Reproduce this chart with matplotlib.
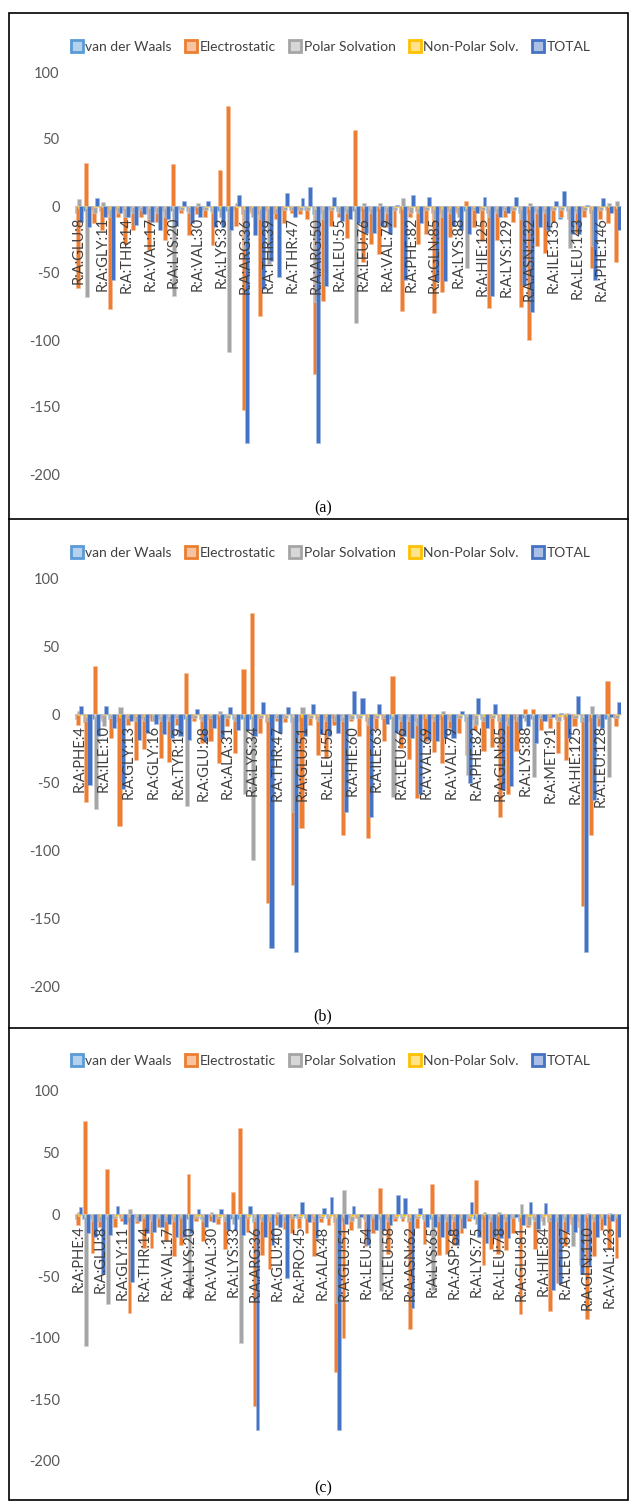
import matplotlib
matplotlib.use('Agg')
import matplotlib.pyplot as plt
from matplotlib.patches import Rectangle
from matplotlib.lines import Line2D
from matplotlib.colors import to_rgb
import numpy as np

series_names = ['van der Waals', 'Electrostatic', 'Polar Solvation', 'Non-Polar Solv.', 'TOTAL']
colors = ['#5B9BD5', '#ED7D31', '#A5A5A5', '#FFC000', '#4472C4']
y_ticks = [100, 50, 0, -50, -100, -150, -200]

# ---------------- panel (a) ----------------
a_labels = ['R:A:GLU:8', 'R:A:GLY:11', 'R:A:THR:14', 'R:A:VAL:17', 'R:A:LYS:20', 'R:A:VAL:30',
            'R:A:LYS:33', 'R:A:ARG:36', 'R:A:THR:39', 'R:A:THR:47', 'R:A:ARG:50', 'R:A:LEU:55',
            'R:A:LEU:76', 'R:A:VAL:79', 'R:A:PHE:82', 'R:A:GLN:85', 'R:A:LYS:88', 'R:A:HIE:125',
            'R:A:LYS:129', 'R:A:ASN:132', 'R:A:ILE:135', 'R:A:LEU:143', 'R:A:PHE:146']
a_vdw = [-5, -4, -3, -4, -6, -3, -4, -4, -3, -5, -4, -4, -4, -3, -4, -3, -3, -4, -4, -4,
         -3, -6, -4, -6, -4, -5, -3, -3, -3, -3, -6, -5, -3, -4, -4, -4, -4, -4, -4, -4,
         -3, -5, -3, -4, -3, -5, -5, -4, -4, -4, -3, -3, -5, -4, -3, -3, -5, -6, -4, -4,
         -3, -10, -4, -4, -3, -5, -3, -3, -4]
a_elec = [-61, 32, -13, -18, -77, -8, -28, -18, -8, -33, -12, -25, 31, -5, -22, -6, -8, -29, 27, 75,
          -15, -152, -5, -82, -12, -10, -13, -5, -6, -10, -125, -71, -15, -8, -24, 57, -42, -28, -36, -16,
          -16, -78, -8, -28, -21, -80, -64, -23, -5, 4, -16, -26, -76, -25, -8, -12, -75, -100, -30, -35,
          -12, -8, -10, -20, -8, -46, -10, -13, -42]
a_polar = [5, -68, -5, 3, -8, -5, -8, -5, -3, -10, -5, -8, -67, -3, -5, 2, -3, -5, -8, -109,
           2, -32, -8, -10, -43, -5, -3, -3, -3, -3, -72, -10, -3, -5, -5, -87, 2, -5, 2, -5,
           -3, 6, -5, -5, -3, -10, -8, -5, -8, -46, -3, -3, -8, -5, -3, -3, -10, 2, -5, -5,
           -3, -3, -31, -5, -3, -30, -3, 2, 4]
a_np = [-1.5, -1.5, -1, -1, -2, -1, -1.5, -1, -1, -1.5, -1, -1.5, -1.5, -1, -1, -1, -1, -1.5, -1.5, -1.5,
        -1, -2, -1, -2, -1.5, -1.5, -1, -1, -1, -1, -2, -2, -1, -1, -1.5, -1.5, -1.5, -1.5, -1.5, -1,
        -1, -2, -1, -1.5, -1, -2, -2, -1.5, -1, -1.5, -1, -1, -2, -1.5, -1, -1, -2, -2, -1.5, -1.5,
        -1, -1, -1.5, -1.5, -1, -2, -1, -1, -1.5]
a_total = [-12, -16, 6, -8, -55, -5, -8, -14, -6, -12, -18, -10, -15, 4, -13, -8, 4, -16, -16, -18,
           8, -177, -22, -62, -41, -53, 10, -8, 6, 14, -177, -60, 7, -11, -10, -13, -20, -20, -15, -21,
           1, -55, 8, -13, 7, -56, -56, -15, -18, -21, -5, 7, -67, -8, -5, 7, -59, -79, -16, -18,
           4, 11, -21, -21, 1, -55, 6, -5, -18]

# ---------------- panel (b) ----------------
b_labels = ['R:A:PHE:4', 'R:A:ILE:10', 'R:A:GLY:13', 'R:A:GLY:16', 'R:A:TYR:19', 'R:A:GLU:28',
            'R:A:ALA:31', 'R:A:LYS:34', 'R:A:THR:47', 'R:A:GLU:51', 'R:A:LEU:55', 'R:A:HIE:60',
            'R:A:ILE:63', 'R:A:LEU:66', 'R:A:VAL:69', 'R:A:VAL:79', 'R:A:PHE:82', 'R:A:GLN:85',
            'R:A:LYS:88', 'R:A:MET:91', 'R:A:HIE:125', 'R:A:LEU:128']
b_vdw = [-4, -6, -4, -3, -4, -6, -3, -4, -4, -3, -4, -4, -3, -4, -3, -4, -4, -4, -3, -4,
         -4, -4, -3, -6, -3, -3, -6, -5, -3, -4, -4, -3, -5, -3, -3, -5, -3, -4, -4, -4,
         -4, -5, -4, -4, -4, -4, -3, -5, -4, -4, -3, -5, -5, -4, -3, -4, -3, -3, -4, -4,
         -3, -6, -5, -3, -4, -3]
b_elec = [-8, -65, 35, -5, -18, -82, -8, -34, -26, -5, -32, -35, -8, 30, -5, -21, -20, -36, -9, -29,
          33, 74, -14, -139, -5, -6, -126, -84, -8, -30, -32, -8, -89, -5, -16, -91, -11, -20, 28, -25,
          -33, -62, -20, -28, -36, -10, -14, -30, -12, -27, -24, -76, -59, -27, 4, 4, -12, -10, -29, -34,
          -9, -141, -89, -9, 24, -9]
b_polar = [2, -5, -70, -9, -3, 5, -3, -5, -5, -5, -5, -5, -3, -68, -3, -5, -3, 2, -3, -5,
           -59, -107, -3, -5, -3, -3, -72, 5, -3, -5, -5, -5, -5, -4, -3, -8, -3, -3, -61, -5,
           -5, -8, -3, -5, 2, -5, -3, -45, -8, -5, -3, -5, -8, -5, -5, -46, -3, -3, -5, 1,
           -3, -5, 6, -3, -46, -3]
b_np = [-1, -2, -1.5, -1, -1, -2, -1, -1.5, -1.5, -1, -1.5, -1.5, -1, -1.5, -1, -1.5, -1, -1.5, -1, -1.5,
        -1.5, -1.5, -1, -2, -1, -1, -2, -2, -1, -1.5, -1.5, -1, -2, -1, -1, -2, -1, -1, -1.5, -1.5,
        -1.5, -2, -1.5, -1.5, -1.5, -1, -1, -1.5, -1, -1.5, -1, -2, -2, -1.5, -1, -1.5, -1, -1, -1.5, -1.5,
        -1, -2, -2, -1, -1.5, -1]
b_total = [6, -52, -16, 6, -10, -55, -5, -19, -14, -7, -15, -18, -16, -19, 4, -20, -10, -18, 5, -12,
           -12, -16, 9, -172, -14, 5, -175, -16, 7, -15, -16, -14, -72, 17, 12, -76, 7, -7, -14, -16,
           -18, -59, -19, -20, -18, -18, 2, -51, 12, -10, 7, -56, -53, -12, -9, -21, -5, -2, 1, -18,
           13, -175, -63, -10, -2, 9]

# ---------------- panel (c) ----------------
c_labels = ['R:A:PHE:4', 'R:A:GLU:8', 'R:A:GLY:11', 'R:A:THR:14', 'R:A:VAL:17', 'R:A:LYS:20',
            'R:A:VAL:30', 'R:A:LYS:33', 'R:A:ARG:36', 'R:A:GLU:40', 'R:A:PRO:45', 'R:A:ALA:48',
            'R:A:GLU:51', 'R:A:LEU:54', 'R:A:LEU:58', 'R:A:ASN:62', 'R:A:LYS:65', 'R:A:ASP:68',
            'R:A:LYS:75', 'R:A:LEU:78', 'R:A:GLU:81', 'R:A:HIE:84', 'R:A:LEU:87', 'R:A:GLN:110',
            'R:A:VAL:123']
c_vdw = [-4, -4, -4, -5, -4, -3, -3, -6, -3, -4, -4, -3, -4, -4, -4, -4, -3, -4, -3, -3,
         -4, -4, -4, -3, -6, -4, -5, -3, -5, -3, -3, -3, -4, -3, -3, -6, -5, -3, -3, -4,
         -4, -4, -4, -3, -3, -6, -3, -4, -4, -4, -4, -4, -3, -3, -4, -4, -4, -4, -4, -3,
         -5, -3, -4, -3, -6, -5, -4, -4, -5, -5, -4, -3, -3, -4]
c_elec = [-9, 76, -31, -10, 37, -10, -5, -80, -7, -27, -27, -10, -22, -34, -25, 33, -5, -22, -5, -8,
          -28, 18, 70, -14, -155, -33, -44, -9, -12, -15, -11, -15, -34, -6, -9, -128, -100, -13, -3, -26,
          -15, 21, -32, -5, -5, -93, -11, -24, 25, -33, -32, -25, -15, -5, 28, -41, -28, -32, -29, -15,
          -81, -10, -28, -5, -78, -56, -26, -8, -10, -85, -34, -13, -28, -35]
c_polar = [2, -107, -5, -5, -73, -3, -3, 4, -5, -3, -5, -3, -5, -5, -3, -69, -3, -5, 2, -3,
           -5, -8, -104, -3, -5, -5, -5, 2, -5, -3, -3, -3, -5, -3, -3, -72, 20, -5, -11, -5,
           -3, -62, -5, -3, -3, -5, -3, -5, -61, -5, -5, -5, -3, -3, -8, 2, -5, 2, -5, -3,
           8, -9, -5, -9, -5, -5, -5, -26, -41, 1, -5, -3, 1, -3]
c_np = [-1, -2, -1.5, -1.5, -1.5, -1, -1, -2, -1, -1.5, -1.5, -1, -1.5, -1.5, -1.5, -1.5, -1, -1.5, -1, -1,
        -1.5, -1, -1.5, -1, -2, -1.5, -1.5, -1, -1.5, -1, -1, -1, -1.5, -1, -1, -2, -2, -1, -1, -1.5,
        -1, -1.5, -1.5, -1, -1, -2, -1, -1.5, -1.5, -1.5, -1.5, -1.5, -1, -1, -1.5, -1.5, -1.5, -1.5, -1.5, -1,
        -2, -1, -1.5, -1, -2, -2, -1.5, -1.5, -1.5, -2, -1.5, -1, -1.5, -1.5]
c_total = [6, -15, -18, -48, -17, 7, -8, -55, -5, -15, -14, -10, -8, -18, -18, -15, 4, -10, -6, 4,
           -13, -13, -17, 7, -175, -18, -25, -10, -52, -1, 10, -6, -19, 5, 14, -175, -8, 7, -2, -25,
           -13, -13, -9, 16, 13, -76, 5, -10, -10, -18, -17, -25, -11, 10, -18, -23, -18, -19, -19, -2,
           -9, 10, -12, 9, -61, -56, -14, -14, -48, -42, -18, -9, -5, -18]

# ---------------- layout (pixels) ----------------
W, H = 639, 1507
fig = plt.figure(figsize=(W / 100, H / 100), dpi=100)
FONT = ['Lato', 'DejaVu Sans']


def lighten(c, f=0.45):
    r, g, b = to_rgb(c)
    return (r + (1 - r) * f, g + (1 - g) * f, b + (1 - b) * f)


panels = [
    dict(labels=a_labels, data=[a_vdw, a_elec, a_polar, a_np, a_total], top=72, bot=474,
         tag='(a)', tag_y=508, leg_y=47),
    dict(labels=b_labels, data=[b_vdw, b_elec, b_polar, b_np, b_total], top=578, bot=986,
         tag='(b)', tag_y=1016, leg_y=553),
    dict(labels=c_labels, data=[c_vdw, c_elec, c_polar, c_np, c_total], top=1091, bot=1461,
         tag='(c)', tag_y=1488, leg_y=1061),
]

left_px, right_px = 75, 621
for p in panels:
    ax = fig.add_axes([left_px / W, 1 - p['bot'] / H, (right_px - left_px) / W, (p['bot'] - p['top']) / H])
    n = len(p['data'][0])
    x = np.arange(n)
    for j, vals in enumerate(p['data']):
        ax.bar(x + (j - 2) * 0.125, vals, width=0.5, color=colors[j],
               edgecolor=lighten(colors[j], 0.5), linewidth=0.4, zorder=1 + j * 0.1)
    ax.set_xlim(-0.5, n - 0.5)
    ax.set_ylim(-200, 100)
    for s in ['top', 'right', 'left']:
        ax.spines[s].set_visible(False)
    ax.spines['bottom'].set_position(('data', 0))
    ax.spines['bottom'].set_color('#D9D9D9')
    ax.spines['bottom'].set_linewidth(0.8)
    ax.spines['bottom'].set_zorder(0.5)
    ax.set_yticks(y_ticks)
    ax.set_yticklabels([str(v) for v in y_ticks], fontfamily=FONT, fontsize=10.5, color='#595959')
    ax.tick_params(axis='y', length=0, pad=11)
    ticks = np.arange(0, n, 3)[:len(p['labels'])]
    ax.set_xticks(ticks)
    ax.set_xticklabels(p['labels'], rotation=90, fontfamily=FONT, fontsize=10.5, color='#404040')
    ax.tick_params(axis='x', length=0, pad=8)
    ax.patch.set_visible(False)

    handles = [Line2D([], [], marker='s', linestyle='none', markersize=8,
                      markerfacecolor=lighten(c, 0.55), markeredgecolor=c, markeredgewidth=2.0)
               for c in colors]
    leg = fig.legend(handles, series_names, loc='center', bbox_to_anchor=(331 / W, 1 - p['leg_y'] / H),
                     ncol=5, frameon=False, handlelength=0.8, handletextpad=0.2, columnspacing=1.0,
                     borderaxespad=0, prop={'family': FONT, 'size': 10})
    for t in leg.get_texts():
        t.set_color('#404040')

    fig.text(323 / W, 1 - p['tag_y'] / H, p['tag'], ha='center', va='center',
             fontfamily='Liberation Serif', fontsize=11.5, color='black')

# frame and dividers
fig.add_artist(Rectangle((9 / W, 1 - 1500 / H), (628 - 9) / W, (1500 - 13) / H, transform=fig.transFigure,
                         fill=False, edgecolor='black', linewidth=1.2))
for yy in [519, 1028]:
    fig.add_artist(Line2D([9 / W, 628 / W], [1 - yy / H, 1 - yy / H], transform=fig.transFigure,
                          color='black', linewidth=1.2))

fig.savefig('out.png', dpi=100)
